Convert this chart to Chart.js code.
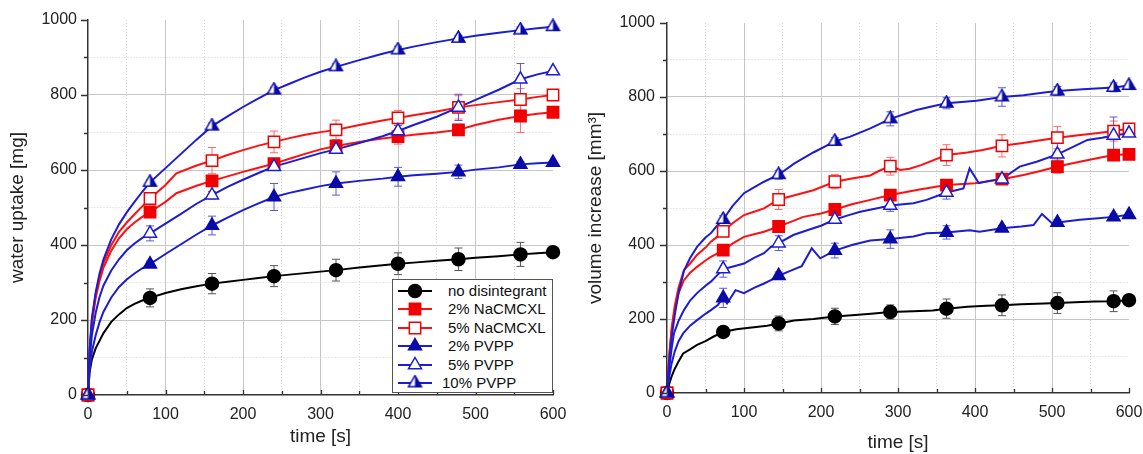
<!DOCTYPE html>
<html>
<head>
<meta charset="utf-8">
<script src="https://cdn.jsdelivr.net/npm/chart.js@4.4.1/dist/chart.umd.min.js"></script>
<style>
    body { margin: 0; background: #fff; }
    #wrap { position: relative; width: 1143px; height: 454px; overflow: hidden; font-family: 'Liberation Sans', Arial, sans-serif; }
    canvas.plot { position: absolute; top: 0; }
    #legend { position: absolute; left: 392px; top: 279px; width: 161px; height: 114px; box-sizing: border-box; border: 1px solid #555; background: #fff; padding-top: 2px; }
    .row { position: relative; height: 18.4px; }
    .row canvas { position: absolute; left: 4px; top: 0; }
    .row span { position: absolute; left: 55px; top: 0; font-size: 15px; line-height: 18.4px; color: #111; white-space: nowrap; }
</style>
</head>
<body>
<div id="wrap">
    <canvas id="leftChart" class="plot" width="571" height="454" style="left:0"></canvas>
    <canvas id="rightChart" class="plot" width="572" height="454" style="left:571px"></canvas>
    <div id="legend"></div>
</div>
<script>
// ---- data ----
const seriesNames = ['no disintegrant', '2% NaCMCXL', '5% NaCMCXL', '2% PVPP', '5% PVPP', '10% PVPP'];
const xMajorTicks = [0, 100, 200, 300, 400, 500, 600];
const yMajorTicks = [0, 200, 400, 600, 800, 1000];

// left panel: water uptake [mg]
const leftTimes = [0, 80, 160, 240, 320, 400, 478, 558, 600];
const leftNoDis = [0, 259, 297, 317, 333, 350, 362, 375, 381];
const leftNa2 = [0, 488, 571, 617, 664, 689, 707, 744, 754];
const leftNa5 = [0, 524, 625, 675, 707, 739, 767, 788, 800];
const leftPv2 = [0, 349, 452, 528, 564, 582, 595, 615, 620];
const leftPv5 = [0, 431, 533, 609, 655, 704, 767, 842, 864];
const leftPv10 = [0, 567, 717, 813, 875, 920, 951, 973, 982];

const leftNoDisErr = [0, 24, 27, 28, 29, 29, 30, 32, 0];
const leftNa2Err = [0, 10, 8, 10, 10, 20, 15, 44, 0];
const leftNa5Err = [0, 10, 35, 29, 26, 20, 31, 29, 0];
const leftPv2Err = [0, 8, 25, 36, 31, 25, 18, 8, 0];
const leftPv5Err = [0, 20, 10, 10, 10, 15, 35, 42, 0];
const leftPv10Err = [0, 6, 8, 8, 8, 10, 8, 8, 0];

const leftNoDisCurve = [[0,0],[2,60],[5,95],[10,125],[15,145],[20,165],[30,195],[40,215],[50,232],[60,243],[70,252],[80,259],[100,272],[120,282],[140,290],[160,297],[180,302],[200,307],[220,312],[240,317],[260,321],[280,325],[300,329],[320,333],[350,340],[380,346],[400,350],[420,353],[450,358],[478,362],[500,366],[530,370],[558,375],[580,378],[600,381]];
const leftNa2Curve = [[0,0],[2,110],[5,190],[10,260],[15,305],[20,340],[30,385],[40,418],[50,442],[60,460],[70,475],[80,488],[100,515],[114,538],[140,558],[160,571],[180,583],[200,595],[220,606],[240,617],[260,630],[280,643],[300,655],[320,664],[350,675],[380,684],[400,689],[420,694],[450,700],[478,707],[500,720],[530,734],[558,744],[580,750],[600,754]];
const leftNa5Curve = [[0,0],[2,115],[5,200],[10,270],[15,318],[20,352],[30,400],[40,435],[50,460],[60,482],[70,503],[80,524],[100,560],[114,591],[140,612],[160,625],[180,640],[200,653],[220,665],[240,675],[260,685],[280,694],[300,701],[320,707],[350,720],[380,732],[400,739],[420,746],[450,756],[478,767],[500,773],[530,781],[558,788],[580,795],[600,800]];
const leftPv2Curve = [[0,0],[2,65],[5,115],[10,160],[15,195],[20,222],[30,260],[40,288],[50,308],[60,324],[70,338],[80,349],[100,376],[120,402],[140,428],[160,452],[180,473],[200,493],[220,511],[240,528],[260,539],[280,548],[300,557],[320,564],[350,571],[380,577],[400,582],[420,586],[450,590],[478,595],[500,601],[530,607],[558,615],[580,618],[600,620]];
const leftPv5Curve = [[0,0],[2,90],[5,160],[10,220],[15,262],[20,292],[30,332],[40,362],[50,386],[60,404],[70,419],[80,431],[100,457],[120,483],[140,510],[160,533],[180,555],[200,574],[220,592],[240,609],[260,621],[280,633],[300,645],[320,655],[350,672],[380,690],[400,704],[420,720],[450,742],[478,767],[500,787],[530,814],[558,842],[580,855],[600,864]];
const leftPv10Curve = [[0,0],[2,120],[5,205],[10,275],[15,325],[20,362],[30,415],[40,455],[50,487],[60,515],[70,542],[80,567],[100,605],[120,643],[140,681],[160,717],[180,743],[200,768],[220,791],[240,813],[260,830],[280,847],[300,862],[320,875],[350,893],[380,910],[400,920],[420,929],[450,941],[478,951],[500,958],[530,966],[558,973],[580,978],[600,982]];

// right panel: volume increase [mm3]
const rightTimes = [0, 73, 145, 218, 290, 363, 435, 507, 580, 600];
const rightNoDis = [0, 165, 188, 207, 219, 228, 237, 243, 248, 251];
const rightNa2 = [0, 386, 450, 496, 535, 562, 578, 612, 643, 645];
const rightNa5 = [0, 437, 523, 571, 613, 643, 668, 690, 708, 714];
const rightPv2 = [0, 257, 317, 385, 416, 434, 445, 461, 476, 482];
const rightPv5 = [0, 335, 405, 469, 507, 542, 578, 645, 696, 702];
const rightPv10 = [0, 469, 590, 680, 741, 783, 800, 816, 826, 831];

const rightNoDisErr = [0, 5, 20, 22, 19, 26, 28, 28, 28, 0];
const rightNa2Err = [0, 8, 10, 8, 8, 8, 10, 18, 8, 0];
const rightNa5Err = [0, 12, 27, 19, 24, 28, 30, 30, 27, 0];
const rightPv2Err = [0, 26, 10, 20, 25, 18, 8, 8, 8, 0];
const rightPv5Err = [0, 22, 20, 10, 16, 18, 10, 44, 50, 0];
const rightPv10Err = [0, 10, 12, 10, 19, 15, 25, 12, 12, 0];

const rightNoDisCurve = [[0,0],[3,25],[6,45],[10,65],[15,85],[21,107],[30,118],[39,130],[50,140],[60,152],[73,165],[90,172],[110,177],[130,182],[145,188],[165,196],[190,200],[218,207],[240,210],[265,214],[290,219],[320,221],[345,223],[363,228],[390,233],[415,236],[435,237],[460,240],[490,242],[507,243],[530,245],[555,247],[580,248],[600,251]];
const rightNa2Curve = [[0,0],[3,100],[6,170],[10,225],[15,270],[22,305],[30,325],[39,341],[50,358],[57,368],[65,377],[73,386],[86,405],[100,422],[113,429],[126,436],[145,450],[160,462],[177,476],[200,485],[218,496],[240,510],[264,522],[290,535],[328,550],[363,562],[400,567],[435,578],[463,589],[485,600],[507,612],[536,625],[560,635],[580,643],[600,645]];
const rightNa5Curve = [[0,0],[3,105],[6,175],[10,235],[15,285],[22,332],[30,350],[39,373],[50,393],[57,409],[65,422],[73,437],[86,460],[100,481],[113,490],[126,499],[145,523],[167,535],[190,548],[218,571],[240,580],[264,588],[275,600],[290,613],[303,603],[315,606],[330,616],[363,643],[390,650],[410,657],[435,668],[460,675],[485,683],[507,690],[540,698],[560,703],[580,708],[600,714]];
const rightPv2Curve = [[0,0],[3,45],[6,80],[10,112],[15,140],[21,161],[30,182],[39,197],[50,214],[57,224],[66,238],[73,257],[78,242],[89,278],[100,270],[113,284],[126,296],[135,305],[145,317],[160,330],[175,343],[188,391],[199,364],[218,385],[240,400],[264,412],[290,416],[320,423],[337,432],[363,434],[393,440],[406,436],[435,445],[460,450],[476,454],[487,484],[500,459],[507,461],[536,468],[560,472],[580,476],[600,482]];
const rightPv5Curve = [[0,0],[3,70],[6,120],[9,161],[15,195],[22,224],[30,250],[39,270],[50,290],[57,301],[65,318],[73,335],[86,342],[100,350],[113,365],[126,378],[135,395],[145,405],[164,427],[185,442],[200,452],[218,469],[235,480],[251,490],[270,498],[290,507],[320,513],[337,522],[363,542],[385,553],[393,607],[405,567],[420,574],[435,578],[458,612],[480,625],[507,645],[532,670],[546,684],[565,690],[580,696],[600,702]];
const rightPv10Curve = [[0,0],[3,90],[6,150],[10,210],[15,270],[22,330],[30,365],[39,395],[50,420],[57,432],[65,452],[73,469],[85,505],[100,540],[113,556],[126,571],[145,590],[165,620],[190,650],[218,680],[238,693],[264,715],[290,741],[324,765],[345,775],[363,783],[402,790],[435,800],[463,805],[490,812],[507,816],[540,821],[580,826],[600,831]];

// ---- styles ----
const BLUE_LINE = '#1c1cd2';
const BLUE_FILL = '#0a0aa8';
const RED = '#ff1010';

function halfTriangle(r, color) {
    const s = Math.ceil(r * 2 + 2);
    const c = document.createElement('canvas');
    c.width = s; c.height = s;
    const g = c.getContext('2d');
    const cx = s / 2, cy = s / 2;
    const ax = cx, ay = cy - r;
    const rx = cx + 0.866 * r, lx = cx - 0.866 * r, by = cy + 0.5 * r;
    g.beginPath(); g.moveTo(ax, ay); g.lineTo(rx, by); g.lineTo(lx, by); g.closePath();
    g.fillStyle = '#fff'; g.fill();
    g.beginPath(); g.moveTo(ax, ay); g.lineTo(rx, by); g.lineTo(cx, by); g.closePath();
    g.fillStyle = color; g.fill();
    g.beginPath(); g.moveTo(ax, ay); g.lineTo(rx, by); g.lineTo(lx, by); g.closePath();
    g.lineWidth = 1.5; g.strokeStyle = color; g.stroke();
    return c;
}

const styles = [
    { line: '#000', fill: '#000', err: '#555', shape: 'circle', r: 6.5, open: false },
    { line: RED, fill: '#f00000', err: '#ff6a6a', shape: 'rect', r: 8, open: false },
    { line: RED, fill: '#f00000', err: '#ff6a6a', shape: 'rect', r: 8, open: true },
    { line: BLUE_LINE, fill: BLUE_FILL, err: '#5a5ae0', shape: 'triangle', r: 7.5, open: false },
    { line: BLUE_LINE, fill: BLUE_LINE, err: '#5a5ae0', shape: 'triangle', r: 7.5, open: true },
    { line: BLUE_LINE, fill: BLUE_FILL, err: '#5a5ae0', shape: 'half', r: 7.5, open: false }
];
styles[5].img = halfTriangle(7.5, BLUE_FILL);

function drawMarker(g, st, x, y) {
    if (st.shape === 'half') {
        g.drawImage(st.img, x - st.img.width / 2, y - st.img.height / 2);
        return;
    }
    g.lineWidth = 1.5;
    g.strokeStyle = st.fill;
    g.fillStyle = st.open ? '#fff' : st.fill;
    g.beginPath();
    if (st.shape === 'circle') {
        g.arc(x, y, st.r, 0, Math.PI * 2);
    } else if (st.shape === 'rect') {
        const h = st.r * Math.SQRT1_2;
        g.rect(x - h, y - h, 2 * h, 2 * h);
    } else {
        g.moveTo(x, y - st.r);
        g.lineTo(x + 0.866 * st.r, y + 0.5 * st.r);
        g.lineTo(x - 0.866 * st.r, y + 0.5 * st.r);
        g.closePath();
    }
    g.fill();
    g.stroke();
}

// error bars drawn through the chart scales
const errorBars = {
    id: 'errorBars',
    beforeDatasetsDraw(chart) {
        const { ctx, scales: { x, y } } = chart;
        chart.data.datasets.forEach(ds => {
            if (!ds.errors) return;
            ctx.save();
            ctx.strokeStyle = ds.errColor;
            ctx.lineWidth = 1;
            ds.data.forEach((p, j) => {
                const e = ds.errors[j];
                if (!e) return;
                const px = x.getPixelForValue(p.x);
                const top = y.getPixelForValue(p.y + e);
                const bot = y.getPixelForValue(p.y - e);
                ctx.beginPath();
                ctx.moveTo(px, top); ctx.lineTo(px, bot);
                ctx.moveTo(px - 4, top); ctx.lineTo(px + 4, top);
                ctx.moveTo(px - 4, bot); ctx.lineTo(px + 4, bot);
                ctx.stroke();
            });
            ctx.restore();
        });
    }
};

// outward y ticks, inward x ticks
const axisTicks = {
    id: 'axisTicks',
    afterDraw(chart) {
        const { ctx, scales: { x, y } } = chart;
        ctx.save();
        ctx.strokeStyle = '#333';
        ctx.lineWidth = 1.3;
        ctx.beginPath();
        y.ticks.forEach(t => {
            const py = Math.round(y.getPixelForValue(t.value)) + 0.5;
            const len = yMajorTicks.includes(t.value) ? 7 : 4;
            ctx.moveTo(y.right - len, py); ctx.lineTo(y.right, py);
        });
        x.ticks.forEach(t => {
            const px = Math.round(x.getPixelForValue(t.value)) + 0.5;
            const len = xMajorTicks.includes(t.value) ? 5 : 4;
            ctx.moveTo(px, x.top); ctx.lineTo(px, x.top - len);
        });
        ctx.stroke();
        ctx.restore();
    }
};

Chart.defaults.font.family = "'Liberation Sans', Arial, sans-serif";
Chart.defaults.color = '#222';

function gridColor(c, majors, max) {
    const v = c.tick ? c.tick.value : null;
    if (v === null || v === 0 || v === max) return 'rgba(0,0,0,0)';
    return majors.includes(v) ? '#c6c6c6' : '#d2d2d2';
}

function buildChart(id, cfg) {
    const datasets = [];
    cfg.curves.forEach((curve, i) => {
        const st = styles[i];
        datasets.push({
            data: curve.map(p => ({ x: p[0], y: p[1] })),
            borderColor: st.line,
            borderWidth: 2,
            pointRadius: 0,
            tension: 0,
            fill: false,
            order: 3 - i * 0.1
        });
    });
    cfg.markers.forEach((vals, i) => {
        const st = styles[i];
        datasets.push({
            data: cfg.times.map((t, j) => ({ x: t, y: vals[j] })),
            errors: cfg.errors[i],
            errColor: st.err,
            showLine: false,
            pointStyle: st.shape === 'half' ? st.img : st.shape,
            pointRadius: st.r,
            pointHoverRadius: st.r,
            pointBackgroundColor: st.open ? '#fff' : st.fill,
            pointBorderColor: st.fill,
            pointBorderWidth: 1.5,
            clip: false,
            order: 1 - i * 0.1
        });
    });

    return new Chart(document.getElementById(id), {
        type: 'line',
        data: { datasets },
        options: {
            responsive: false,
            animation: false,
            layout: { padding: cfg.padding },
            plugins: { legend: { display: false }, tooltip: { enabled: false } },
            scales: {
                x: {
                    type: 'linear',
                    min: 0,
                    max: 600,
                    ticks: {
                        stepSize: 50,
                        autoSkip: false,
                        maxRotation: 0,
                        padding: 10,
                        font: { size: 16 },
                        callback: v => xMajorTicks.includes(v) ? v : ''
                    },
                    grid: { drawTicks: false, lineWidth: 1, color: c => gridColor(c, xMajorTicks, 600) },
                    border: { color: '#333', width: 1.5, dash: c => (c.tick && !xMajorTicks.includes(c.tick.value)) ? [1, 2] : [] },
                    title: { display: true, text: 'time [s]', font: { size: 19 }, padding: { top: 0, bottom: cfg.xTitlePad } },
                    afterFit: s => { s.height = cfg.xHeight; s.paddingLeft = 0; s.paddingRight = 0; }
                },
                y: {
                    type: 'linear',
                    min: 0,
                    max: 1000,
                    ticks: {
                        stepSize: 100,
                        autoSkip: false,
                        padding: cfg.yTickPad,
                        font: { size: 16 },
                        callback: v => yMajorTicks.includes(v) ? v : ''
                    },
                    grid: { drawTicks: false, lineWidth: 1, color: c => gridColor(c, yMajorTicks, 1000) },
                    border: { color: '#333', width: 1.5, dash: c => (c.tick && !yMajorTicks.includes(c.tick.value)) ? [1, 2] : [] },
                    title: { display: true, text: cfg.yTitle, font: { size: 19 }, padding: { top: cfg.yTitlePad, bottom: 0 } },
                    afterFit: s => { s.width = cfg.yWidth; s.paddingTop = 0; s.paddingBottom = 0; }
                }
            }
        },
        plugins: [errorBars, axisTicks]
    });
}

buildChart('leftChart', {
    times: leftTimes,
    markers: [leftNoDis, leftNa2, leftNa5, leftPv2, leftPv5, leftPv10],
    errors: [leftNoDisErr, leftNa2Err, leftNa5Err, leftPv2Err, leftPv5Err, leftPv10Err],
    curves: [leftNoDisCurve, leftNa2Curve, leftNa5Curve, leftPv2Curve, leftPv5Curve, leftPv10Curve],
    yTitle: 'water uptake [mg]',
    padding: { left: 0, right: 18, top: 20, bottom: 0 },
    yWidth: 88, xHeight: 59, yTickPad: 11, yTitlePad: 6, xTitlePad: 6
});

buildChart('rightChart', {
    times: rightTimes,
    markers: [rightNoDis, rightNa2, rightNa5, rightPv2, rightPv5, rightPv10],
    errors: [rightNoDisErr, rightNa2Err, rightNa5Err, rightPv2Err, rightPv5Err, rightPv10Err],
    curves: [rightNoDisCurve, rightNa2Curve, rightNa5Curve, rightPv2Curve, rightPv5Curve, rightPv10Curve],
    yTitle: 'volume increase [mm³]',
    padding: { left: 0, right: 14, top: 23, bottom: 0 },
    yWidth: 96, xHeight: 61, yTickPad: 12, yTitlePad: 13, xTitlePad: 0
});

// legend (inside the left plot, bottom right)
const legend = document.getElementById('legend');
seriesNames.forEach((name, i) => {
    const row = document.createElement('div');
    row.className = 'row';
    const icon = document.createElement('canvas');
    icon.width = 44; icon.height = 18;
    const g = icon.getContext('2d');
    g.strokeStyle = styles[i].line;
    g.lineWidth = 2;
    g.beginPath(); g.moveTo(1, 9); g.lineTo(35, 9); g.stroke();
    drawMarker(g, styles[i], 18, 9);
    const label = document.createElement('span');
    label.textContent = name;
    if (name.startsWith('10')) label.style.left = '49px';
    row.appendChild(icon);
    row.appendChild(label);
    legend.appendChild(row);
});
</script>
</body>
</html>
